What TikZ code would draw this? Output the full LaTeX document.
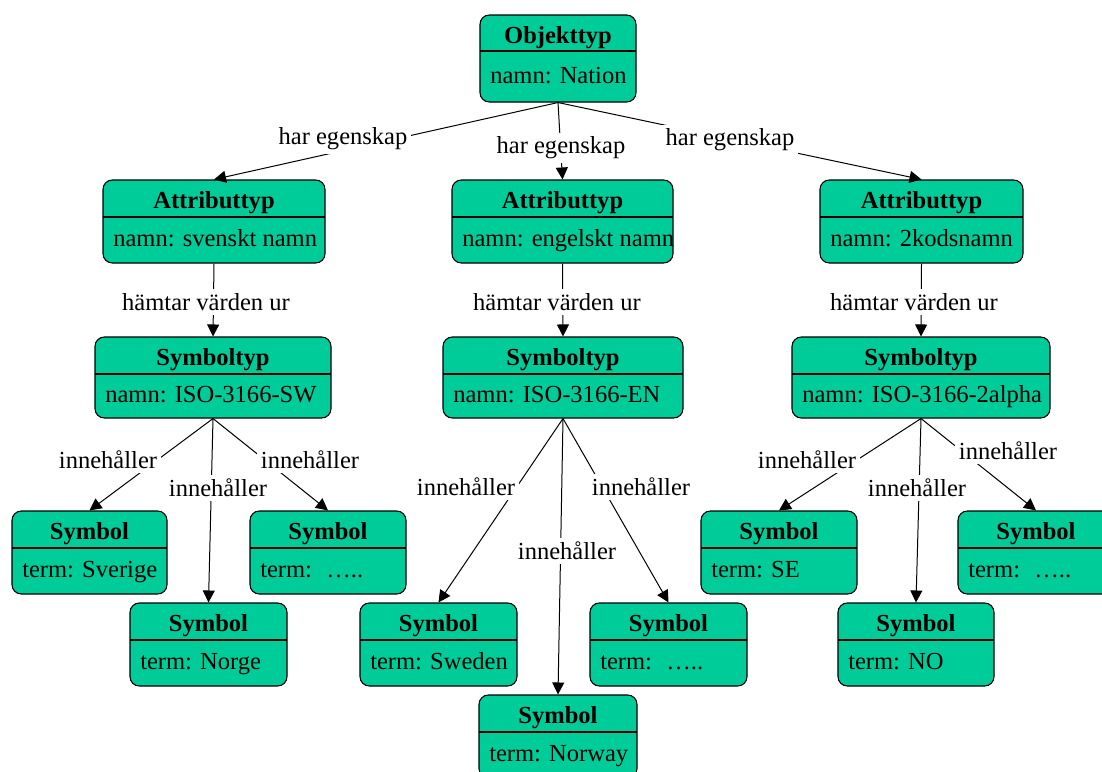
\documentclass[tikz,border=0pt]{standalone}
\usepackage{fontspec}
\setmainfont{Liberation Serif}
\usetikzlibrary{arrows.meta}
\definecolor{boxgreen}{RGB}{0,204,153}
\tikzset{
  umlbox/.style={draw=black, line width=0.8pt, fill=boxgreen, rounded corners=7pt, inner sep=0pt, shape=rectangle},
  divline/.style={line width=0.8pt},
  titletext/.style={font=\fontsize{18.4pt}{22pt}\selectfont\bfseries, inner sep=0pt},
  bodytext/.style={font=\fontsize{18.4pt}{22pt}\selectfont, inner sep=0pt},
  lbl/.style={font=\fontsize{18.4pt}{22pt}\selectfont, fill=white, inner sep=3pt},
  conn/.style={line width=0.75pt, -{Triangle[length=9pt,width=9pt]}},
}
% name, x1, y1, x2, y2, ydiv, title, body
\newcommand\umlbox[8]{%
  \node[umlbox, minimum width={(#4-#2)*0.75pt}, minimum height={(#5-#3)*0.75pt}] (#1) at ({(#2+#4)/2},{(#3+#5)/2}) {};
  \draw[divline] (#2,#6) -- (#4,#6);
  \node[titletext, anchor=base] (#1-t) at ({(#2+#4)/2},{(#3+#6)/2+10}) {#7};
  \node[bodytext, anchor=base west] (#1-b) at ({#2+10},{(#6+#5)/2+6.5}) {#8};
}
\begin{document}
\begin{tikzpicture}[x=0.75pt, y=-0.75pt]
\useasboundingbox (0,0) rectangle (1102,771);
\clip (0,0) rectangle (1102,771);
% boxes
\umlbox{obj}{480}{15}{636}{102}{51}{Objekttyp}{namn: Nation}
\umlbox{attrL}{103}{180}{325}{263}{217}{Attributtyp}{namn: svenskt namn}
\umlbox{attrM}{452}{180}{673}{263}{217}{Attributtyp}{namn: engelskt namn}
\umlbox{attrR}{820}{180}{1023}{263}{217}{Attributtyp}{namn: 2kodsnamn}
\umlbox{symtL}{95}{337}{331}{418}{374}{Symboltyp}{namn: ISO-3166-SW}
\umlbox{symtM}{443}{337}{683}{418}{374}{Symboltyp}{namn: ISO-3166-EN}
\umlbox{symtR}{792}{337}{1050}{418}{374}{Symboltyp}{namn: ISO-3166-2alpha}
\umlbox{sLa}{12}{511}{167}{594}{548}{Symbol}{term: Sverige}
\umlbox{sLb}{130}{603}{287}{686}{640}{Symbol}{term: Norge}
\umlbox{sLc}{250}{511}{406}{594}{548}{Symbol}{term: \ …..}
\umlbox{sMa}{360}{603}{517}{686}{640}{Symbol}{term: Sweden}
\umlbox{sMb}{479}{695}{637}{778}{732}{Symbol}{term: Norway}
\umlbox{sMc}{590}{603}{747}{686}{640}{Symbol}{term: \ …..}
\umlbox{sRa}{701}{511}{857}{594}{548}{Symbol}{term: SE}
\umlbox{sRb}{838}{603}{994}{686}{640}{Symbol}{term: NO}
\umlbox{sRc}{958}{511}{1114}{594}{548}{Symbol}{term: \ …..}
% connectors
\draw[conn] (obj.south) -- (attrL.north);
\draw[conn] (obj.south) -- (attrM.north);
\draw[conn] (obj.south) -- (attrR.north);
\draw[conn] (attrL.south) -- (symtL.north);
\draw[conn] (attrM.south) -- (symtM.north);
\draw[conn] (attrR.south) -- (symtR.north);
\draw[conn] (symtL.south) -- (sLa.north);
\draw[conn] (symtL.south) -- (sLb.north);
\draw[conn] (symtL.south) -- (sLc.north);
\draw[conn] (symtM.south) -- (sMa.north);
\draw[conn] (symtM.south) -- (sMb.north);
\draw[conn] (symtM.south) -- (sMc.north);
\draw[conn] (symtR.south) -- (sRa.north);
\draw[conn] (symtR.south) -- (sRb.north);
\draw[conn] (symtR.south) -- (sRc.north);
% labels
\node[lbl] (l1) at (343,139) {har egenskap};
\node[lbl] (l2) at (561,148) {har egenskap};
\node[lbl] (l3) at (730,140) {har egenskap};
\node[lbl] (l4) at (206,302) {hämtar värden ur};
\node[lbl] (l5) at (557,302) {hämtar värden ur};
\node[lbl] (l6) at (914,302) {hämtar värden ur};
\node[lbl] (l7) at (108,460) {innehåller};
\node[lbl] (l8) at (218,488) {innehåller};
\node[lbl] (l9) at (310,460) {innehåller};
\node[lbl] (l10) at (466,487) {innehåller};
\node[lbl] (l11) at (567,551) {innehåller};
\node[lbl] (l12) at (641,487) {innehåller};
\node[lbl] (l13) at (807,460) {innehåller};
\node[lbl] (l14) at (917,488) {innehåller};
\node[lbl] (l15) at (1008,451) {innehåller};
\end{tikzpicture}
\end{document}
